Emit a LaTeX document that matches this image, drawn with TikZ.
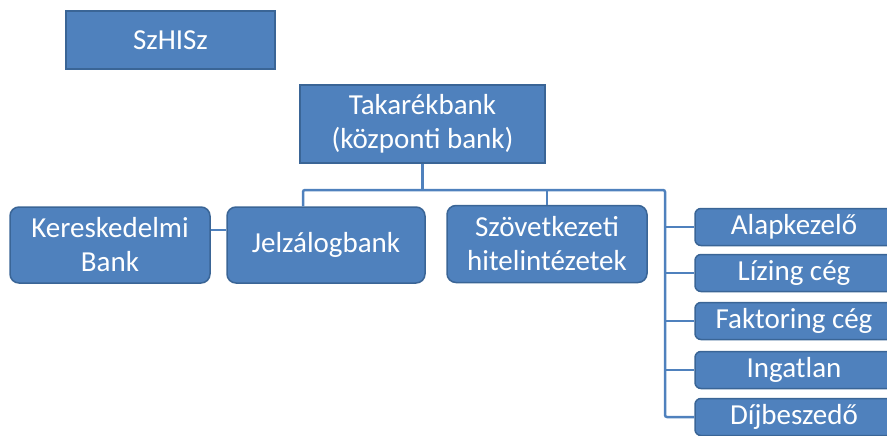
\documentclass[tikz,border=0pt]{standalone}
\usepackage{fontspec}
\setmainfont{Carlito}
\definecolor{boxfill}{HTML}{4F81BD}
\definecolor{boxline}{HTML}{3A6596}
\definecolor{connline}{HTML}{4F81BD}
\begin{document}
\begin{tikzpicture}[x=1pt,y=-1pt,
  box/.style={draw=boxline, line width=1.5pt, fill=boxfill, text=white, align=center,
    font=\fontsize{29}{34}\selectfont, inner sep=0pt},
  sqbox/.style={box},
  rbox/.style={box, rounded corners=9pt},
  sbox/.style={box, rounded corners=6pt, minimum width=198pt, minimum height=37pt},
  conn/.style={draw=connline, line width=2.5pt, rounded corners=2pt}]
\useasboundingbox (0,0) rectangle (887,436);
\clip (0,0) rectangle (887,436);
\node[sqbox, minimum width=209pt, minimum height=58pt] (Sz) at (170.5,40) {SzHISz};
\node[sqbox, minimum width=245pt, minimum height=78pt] (T) at (422.5,124) {Takarékbank\\(központi bank)};
\node[rbox, minimum width=200pt, minimum height=76pt] (K) at (110,245) {Kereskedelmi\\Bank};
\node[rbox, minimum width=198pt, minimum height=76pt] (J) at (326,245) {Jelzálogbank};
\node[rbox, minimum width=200pt, minimum height=77pt] (S) at (547,244) {Szövetkezeti\\hitelintézetek};
\node[sbox] (A) at (794,227) {Alapkezelő};
\node[sbox] (L) at (794,273) {Lízing cég};
\node[sbox] (F) at (794,321) {Faktoring cég};
\node[sbox] (I) at (794,370) {Ingatlan};
\node[sbox] (D) at (794,417) {Díjbeszedő};
\coordinate (jl) at (303,190);
\coordinate (rc) at (665,190);
\draw[conn] (T.south) -- (T.south |- rc);
\draw[conn] ([xshift=-23pt]J.north) -- (jl) -- (rc) -- (rc |- D.west) -- (D.west);
\draw[conn] (S.north) -- (S.north |- rc);
\foreach \n in {A,L,F,I} {\draw[conn] (rc |- \n.west) -- (\n.west);}
\draw[conn] ([yshift=15pt]K.east) -- ([yshift=15pt]J.west);
\end{tikzpicture}
\end{document}
